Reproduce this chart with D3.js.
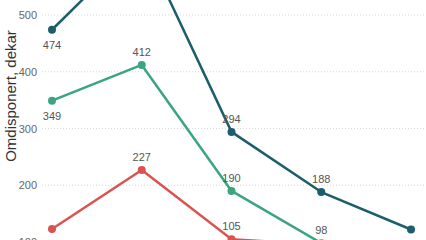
<!DOCTYPE html>
<html>
<head>
<meta charset="utf-8">
<script src="https://cdn.jsdelivr.net/npm/d3@7"></script>
<style>
  body { margin: 0; background: #fff; }
  svg { display: block; overflow: hidden; }
</style>
</head>
<body>
<div id="chart"></div>
<script>
// periods on the x axis (axis itself falls outside the visible crop)
const periods = ["P1", "P2", "P3", "P4", "P5"];
const seriesA = [474, 630, 294, 188, 122];
const seriesB = [349, 412, 190, 98, 60];
const seriesC = [123, 227, 105, 95, 85];
const yTicks = [100, 200, 300, 400, 500];

const width = 426, height = 240;
const colors = ["#1b5e6c", "#3aa57f", "#d9534f"];

const svg = d3.select("#chart").append("svg")
    .attr("width", width)
    .attr("height", height);

const x = d3.scalePoint().domain(periods).range([52, 411]);
const y = d3.scaleLinear().domain([100, 500]).range([242, 15]);

// gridlines
svg.append("g")
   .selectAll("line")
   .data(yTicks)
   .enter()
   .append("line")
   .attr("x1", 42)
   .attr("x2", width)
   .attr("y1", d => y(d))
   .attr("y2", d => y(d))
   .attr("stroke", "#d8d8d8")
   .attr("stroke-width", 1)
   .attr("stroke-dasharray", "1,2");

// y axis tick labels
svg.append("g")
   .selectAll("text")
   .data(yTicks)
   .enter()
   .append("text")
   .attr("x", 37)
   .attr("y", d => y(d) + 4)
   .attr("text-anchor", "end")
   .style("font-family", "Arial, 'Liberation Sans', sans-serif")
   .style("font-size", "11px")
   .style("fill", "#666")
   .text(d => d);

// y axis title
svg.append("text")
   .attr("transform", "translate(16, 96) rotate(-90)")
   .attr("text-anchor", "middle")
   .style("font-family", "Arial, 'Liberation Sans', sans-serif")
   .style("font-size", "15px")
   .style("fill", "#333")
   .text("Omdisponert, dekar");

const line = d3.line()
   .x((d, i) => x(periods[i]))
   .y(d => y(d));

const allSeries = [seriesA, seriesB, seriesC];

// label goes below the point at the ends, or when another series sits just above it
function labelBelow(s, i) {
    const v = allSeries[s][i];
    if (i === 0 || i === periods.length - 1) return true;
    return allSeries.some((o, k) => k !== s && o[i] > v && o[i] - v < 20);
}

allSeries.forEach((vals, s) => {
    svg.append("path")
       .datum(vals)
       .attr("fill", "none")
       .attr("stroke", colors[s])
       .attr("stroke-width", 2.5)
       .attr("stroke-linejoin", "round")
       .attr("d", line);

    svg.append("g")
       .selectAll("circle")
       .data(vals)
       .enter()
       .append("circle")
       .attr("cx", (d, i) => x(periods[i]))
       .attr("cy", d => y(d))
       .attr("r", 4)
       .attr("fill", colors[s]);

    svg.append("g")
       .selectAll("text")
       .data(vals)
       .enter()
       .append("text")
       .attr("x", (d, i) => x(periods[i]))
       .attr("y", (d, i) => labelBelow(s, i) ? y(d) + 19 : y(d) - 9)
       .attr("text-anchor", "middle")
       .style("font-family", "Arial, 'Liberation Sans', sans-serif")
       .style("font-size", "11px")
       .style("fill", "#555")
       .text(d => d);
});
</script>
</body>
</html>
